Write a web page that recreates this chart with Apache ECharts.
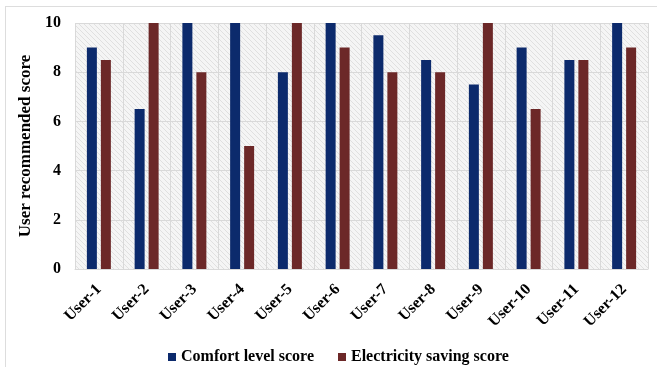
<!DOCTYPE html>
<html>
<head>
<meta charset="utf-8">
<script src="https://cdn.jsdelivr.net/npm/echarts@6/dist/echarts.min.js"></script>
<style>
  html, body { margin: 0; padding: 0; background: #fff; }
  #chart { width: 657px; height: 367px; }
</style>
</head>
<body>
<div id="chart"></div>
<script>
const users = ['User-1', 'User-2', 'User-3', 'User-4', 'User-5', 'User-6',
               'User-7', 'User-8', 'User-9', 'User-10', 'User-11', 'User-12'];
const comfortScores = [9, 6.5, 10, 10, 8, 10, 9.5, 8.5, 7.5, 9, 8.5, 10];
const savingScores = [8.5, 10, 8, 5, 10, 9, 8, 8, 10, 6.5, 8.5, 9];
const yTicks = [0, 2, 4, 6, 8, 10];

// Light diagonal hatching for the plot background
function hatchPattern() {
  const c = document.createElement('canvas');
  c.width = 5; c.height = 5;
  const g = c.getContext('2d');
  g.fillStyle = '#f5f5f5';
  g.fillRect(0, 0, 5, 5);
  g.strokeStyle = '#e0e0e0';
  g.lineWidth = 1;
  g.beginPath();
  g.moveTo(-1, -1); g.lineTo(6, 6);
  g.moveTo(-1, 4); g.lineTo(1, 6);
  g.moveTo(4, -1); g.lineTo(6, 1);
  g.stroke();
  return { image: c, repeat: 'repeat' };
}

const font = '"Liberation Serif", "Times New Roman", serif';
const chart = echarts.init(document.getElementById('chart'));
chart.setOption({
  animation: false,
  backgroundColor: '#fff',
  grid: {
    left: 75, right: 9, top: 23, bottom: 98,
    show: true,
    backgroundColor: hatchPattern(),
    borderWidth: 0
  },
  legend: {
    top: 344,
    left: 163,
    itemWidth: 8,
    itemHeight: 8,
    itemGap: 24,
    icon: 'rect',
    textStyle: { fontFamily: font, fontWeight: 'bold', fontSize: 16, color: '#000' },
    data: ['Comfort level score', 'Electricity saving score']
  },
  xAxis: {
    type: 'category',
    data: users,
    axisLine: { show: true, lineStyle: { color: '#d9d9d9' } },
    axisTick: { show: false },
    splitLine: { show: true, lineStyle: { color: '#d9d9d9' } },
    axisLabel: {
      rotate: 45,
      interval: 0,
      margin: 18,
      fontFamily: font, fontWeight: 'bold', fontSize: 16, color: '#000'
    }
  },
  yAxis: {
    type: 'value',
    min: 0, max: 10, interval: 2,
    name: 'User recommended score',
    nameLocation: 'middle',
    nameGap: 39,
    nameTextStyle: { fontFamily: font, fontWeight: 'bold', fontSize: 17, color: '#000' },
    axisLine: { show: false },
    axisTick: { show: false },
    splitLine: { lineStyle: { color: '#d9d9d9' } },
    axisLabel: {
      margin: 14,
      fontFamily: font, fontWeight: 'bold', fontSize: 16, color: '#000',
      formatter: v => (yTicks.includes(v) ? String(v) : '')
    }
  },
  series: [
    {
      name: 'Comfort level score',
      type: 'bar',
      data: comfortScores,
      barWidth: 10,
      barGap: '40%',
      itemStyle: { color: '#0c2a6c' }
    },
    {
      name: 'Electricity saving score',
      type: 'bar',
      data: savingScores,
      barWidth: 10,
      itemStyle: { color: '#6c2828' }
    }
  ],
  graphic: [
    { type: 'line', shape: { x1: 5, y1: 6.5, x2: 657, y2: 6.5 }, style: { stroke: '#dddddd', lineWidth: 1 }, silent: true },
    { type: 'line', shape: { x1: 5.5, y1: 6, x2: 5.5, y2: 367 }, style: { stroke: '#dddddd', lineWidth: 1 }, silent: true }
  ]
});
</script>
</body>
</html>
